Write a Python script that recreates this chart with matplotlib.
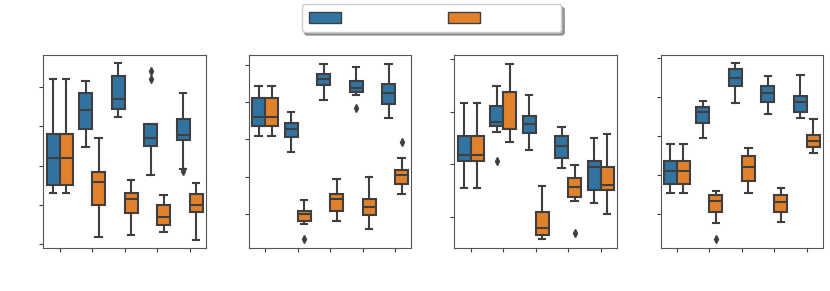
import numpy as np
import matplotlib
matplotlib.use("Agg")
import matplotlib.pyplot as plt
from matplotlib.patches import Patch

# colours (seaborn default palette, desaturated)
blue = "#3274a1"
orange = "#e1812c"
line_col = "#3f3f3f"

categories = [0, 1, 2, 3, 4]
hue_labels = ["", ""]

# box stats per panel: (whislo, q1, med, q3, whishi, fliers)
p1_blue = [(1.31, 1.51, 2.19, 2.81, 4.19, []),
           (2.47, 2.93, 3.42, 3.83, 4.14, []),
           (3.22, 3.43, 3.70, 4.27, 4.59, []),
           (1.76, 2.49, 2.70, 3.05, 3.05, [4.39, 4.19]),
           (1.92, 2.66, 2.77, 3.17, 3.83, [1.87])]
p1_orange = [(1.31, 1.51, 2.19, 2.81, 4.19, []),
             (0.19, 1.00, 1.57, 1.83, 2.69, []),
             (0.23, 0.80, 1.15, 1.30, 1.63, []),
             (0.31, 0.48, 0.70, 1.01, 1.25, []),
             (0.12, 0.81, 1.00, 1.28, 1.55, [])]

p2_blue = [(2.08, 2.37, 2.60, 3.10, 3.42, []),
           (1.66, 2.06, 2.28, 2.45, 2.74, []),
           (3.05, 3.45, 3.61, 3.76, 4.02, []),
           (3.20, 3.28, 3.38, 3.57, 3.93, [2.85]),
           (2.57, 2.96, 3.25, 3.49, 4.03, [])]
p2_orange = [(2.08, 2.37, 2.60, 3.10, 3.42, []),
             (-0.28, -0.19, 0.01, 0.07, 0.38, [-0.68]),
             (-0.18, 0.09, 0.39, 0.54, 0.95, []),
             (-0.40, -0.03, 0.18, 0.41, 1.00, []),
             (0.54, 0.80, 1.04, 1.19, 1.50, [1.93])]

p3_blue = [(0.55, 1.06, 1.18, 1.53, 2.17, []),
           (1.61, 1.72, 1.81, 2.10, 2.48, [1.06]),
           (1.27, 1.59, 1.76, 1.91, 2.32, []),
           (0.93, 1.11, 1.34, 1.53, 1.70, []),
           (0.26, 0.51, 0.95, 1.06, 1.50, [])]
p3_orange = [(0.55, 1.06, 1.18, 1.53, 2.17, []),
             (1.43, 1.66, 1.67, 2.37, 2.91, []),
             (-0.43, -0.34, -0.21, 0.09, 0.58, []),
             (0.30, 0.37, 0.56, 0.73, 0.98, [-0.31]),
             (0.05, 0.50, 0.61, 0.94, 1.57, [])]

p4_blue = [(0.54, 0.78, 1.10, 1.37, 1.80, []),
           (1.94, 2.33, 2.61, 2.74, 2.90, []),
           (2.84, 3.28, 3.47, 3.70, 3.85, []),
           (2.55, 2.86, 3.09, 3.28, 3.53, []),
           (2.45, 2.61, 2.86, 3.01, 3.55, [])]
p4_orange = [(0.54, 0.78, 1.10, 1.37, 1.80, []),
             (-0.22, 0.05, 0.35, 0.49, 0.60, [-0.64]),
             (0.55, 0.85, 1.21, 1.48, 1.68, []),
             (-0.20, 0.05, 0.30, 0.50, 0.68, []),
             (1.56, 1.72, 1.88, 2.03, 2.44, [])]

panels = [(p1_blue, p1_orange, [0, 1, 2, 3, 4], (-0.1, 4.81)),
          (p2_blue, p2_orange, [0, 1, 2, 3, 4], (-0.92, 4.27)),
          (p3_blue, p3_orange, [0, 1, 2, 3], (-0.60, 3.08)),
          (p4_blue, p4_orange, [0, 1, 2, 3, 4], (-0.87, 4.07))]


def to_stats(rows):
    out = []
    for lo, q1, med, q3, hi, fl in rows:
        out.append(dict(whislo=lo, q1=q1, med=med, q3=q3, whishi=hi, fliers=fl))
    return out


def draw_boxes(ax, rows, offset, color):
    pos = np.array(categories) + offset
    ax.bxp(to_stats(rows), positions=pos, widths=0.4, patch_artist=True,
           manage_ticks=False,
           boxprops=dict(facecolor=color, edgecolor=line_col, linewidth=1.5),
           medianprops=dict(color=line_col, linewidth=1.5),
           whiskerprops=dict(color=line_col, linewidth=1.5),
           capprops=dict(color=line_col, linewidth=1.5),
           flierprops=dict(marker="d", markersize=4, markerfacecolor=line_col,
                           markeredgecolor=line_col))


fig = plt.figure(figsize=(8.3, 2.91), dpi=100)
lefts = [0.0522, 0.300, 0.5474, 0.796]
for left, (blue_rows, orange_rows, yt, ylim) in zip(lefts, panels):
    ax = fig.add_axes([left, 0.1467, 0.1957, 0.665])
    draw_boxes(ax, blue_rows, -0.2, blue)
    draw_boxes(ax, orange_rows, 0.2, orange)
    ax.set_xlim(-0.5, 4.5)
    ax.set_ylim(*ylim)
    ax.set_xticks(categories)
    ax.set_yticks(yt)
    ax.set_xticklabels([])
    ax.set_yticklabels([])
    ax.tick_params(length=3, color=line_col)
    for s in ax.spines.values():
        s.set_color("#555555")

handles = [Patch(facecolor=blue, edgecolor=line_col), Patch(facecolor=orange, edgecolor=line_col)]
fig.legend(handles, hue_labels, ncol=2, loc="center", bbox_to_anchor=(0.52, 0.937),
           shadow=True, fancybox=True, handlelength=2.3, handleheight=0.8,
           handletextpad=5.4, columnspacing=2.3, borderpad=0.5, framealpha=1)

fig.savefig("out.png", dpi=100)
